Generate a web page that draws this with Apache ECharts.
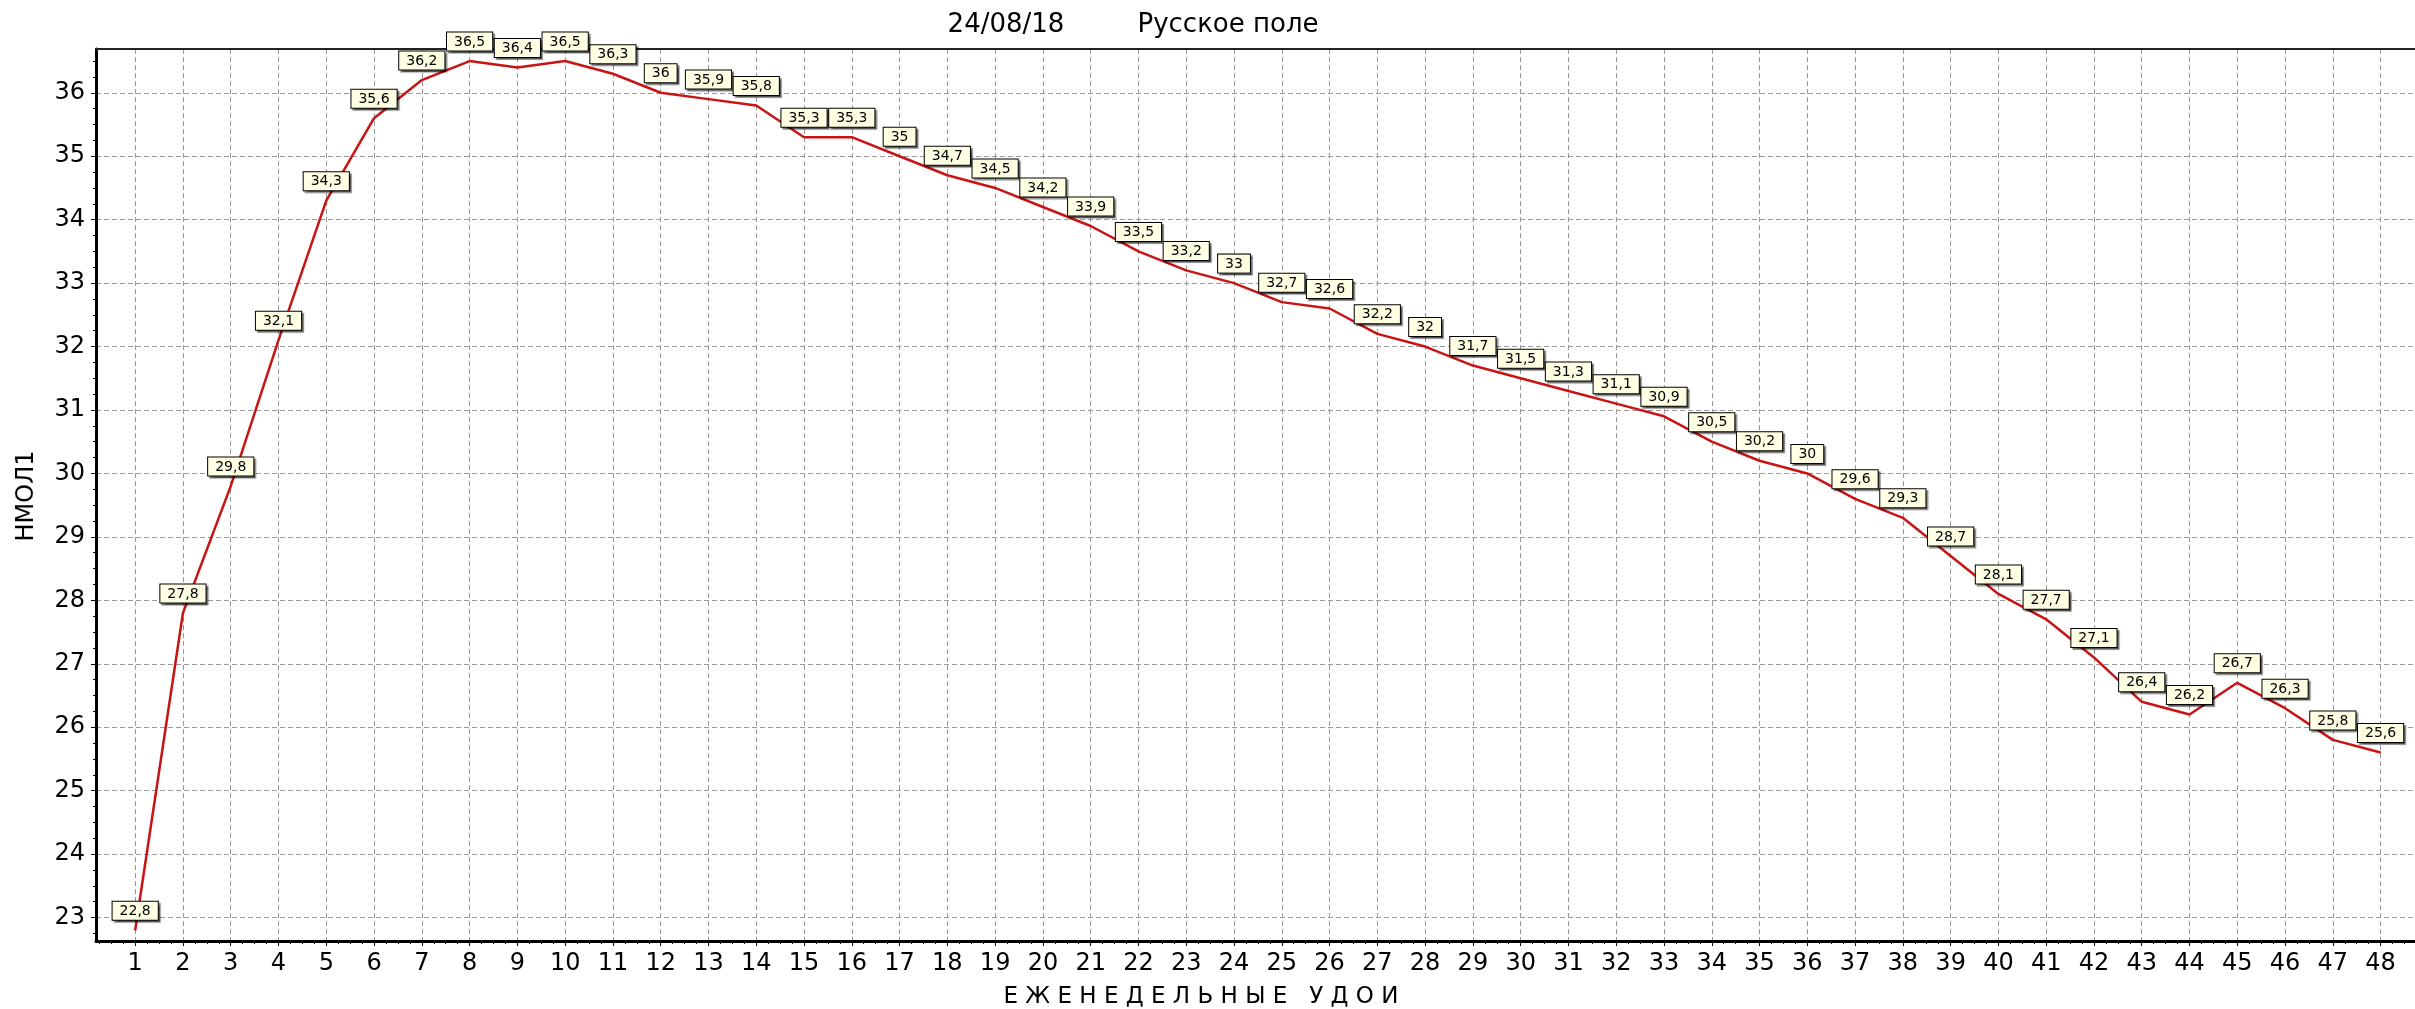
<!DOCTYPE html>
<html>
<head>
<meta charset="utf-8">
<title>Русское поле</title>
<script src="https://cdn.jsdelivr.net/npm/echarts@6/dist/echarts.min.js"></script>
<style>
  html, body { margin: 0; padding: 0; background: #fff; }
  #chart { width: 2415px; height: 1009px; }
</style>
</head>
<body>
<div id="chart"></div>
<script>
// недели лактации и надой за неделю
const weeks = [1, 2, 3, 4, 5, 6, 7, 8, 9, 10, 11, 12, 13, 14, 15, 16, 17, 18, 19, 20, 21, 22, 23, 24,
  25, 26, 27, 28, 29, 30, 31, 32, 33, 34, 35, 36, 37, 38, 39, 40, 41, 42, 43, 44, 45, 46, 47, 48];
const yields = [22.8, 27.8, 29.8, 32.1, 34.3, 35.6, 36.2, 36.5, 36.4, 36.5, 36.3, 36, 35.9, 35.8, 35.3, 35.3,
  35, 34.7, 34.5, 34.2, 33.9, 33.5, 33.2, 33, 32.7, 32.6, 32.2, 32, 31.7, 31.5, 31.3, 31.1,
  30.9, 30.5, 30.2, 30, 29.6, 29.3, 28.7, 28.1, 27.7, 27.1, 26.4, 26.2, 26.7, 26.3, 25.8, 25.6];
const yTicks = [23, 24, 25, 26, 27, 28, 29, 30, 31, 32, 33, 34, 35, 36];
const titleDate = '24/08/18';
const titleFarm = 'Русское поле';
const xName = 'Е Ж Е Н Е Д Е Л Ь Н Ы Е   У Д О И';
const yName = 'НМОЛ1';

const X_MIN = 0.18, X_MAX = 48.72;
const Y_MIN = 22.63, Y_MAX = 36.69;
const FONT = 'DejaVu Sans';

// мелкие риски через 0.25
const quarters = (from, to) => {
  const out = [];
  for (let v = Math.ceil(from * 4) / 4; v <= to; v += 0.25) out.push(+v.toFixed(2));
  return out;
};

const gridLine = { show: true, lineStyle: { color: '#9a9a9a', width: 1, type: [5, 3] } };

const chart = echarts.init(document.getElementById('chart'));
chart.setOption({
  backgroundColor: '#fff',
  animation: false,
  grid: { left: 96, right: 0, top: 49, bottom: 68, outerBoundsMode: 'none' },
  xAxis: [
    {
      type: 'value', position: 'bottom', min: X_MIN, max: X_MAX,
      axisLine: { lineStyle: { color: '#000', width: 3 } },
      axisTick: { customValues: weeks, length: 5, lineStyle: { color: '#000', width: 1 } },
      axisLabel: { customValues: weeks, color: '#000', fontSize: 24, fontFamily: FONT, margin: 11 },
      splitLine: gridLine
    },
    {
      type: 'value', position: 'bottom', min: X_MIN, max: X_MAX,
      axisLine: { show: false },
      axisTick: { customValues: quarters(X_MIN, X_MAX), length: 3, lineStyle: { color: '#000', width: 1 } },
      axisLabel: { show: false },
      splitLine: { show: false }
    },
    {
      type: 'value', position: 'top', min: X_MIN, max: X_MAX,
      axisLine: { lineStyle: { color: '#222', width: 2 } },
      axisTick: { show: false },
      axisLabel: { show: false },
      splitLine: { show: false }
    }
  ],
  yAxis: [
    {
      type: 'value', position: 'left', min: Y_MIN, max: Y_MAX,
      axisLine: { show: true, lineStyle: { color: '#000', width: 3 } },
      axisTick: { show: true, customValues: yTicks, length: 5, lineStyle: { color: '#000', width: 1 } },
      axisLabel: { customValues: yTicks, color: '#000', fontSize: 24, fontFamily: FONT, margin: 11 },
      splitLine: gridLine
    },
    {
      type: 'value', position: 'left', min: Y_MIN, max: Y_MAX,
      axisLine: { show: false },
      axisTick: { show: true, customValues: quarters(Y_MIN, Y_MAX), length: 3, lineStyle: { color: '#000', width: 1 } },
      axisLabel: { show: false },
      splitLine: { show: false }
    }
  ],
  graphic: [
    { type: 'text', x: 1006, y: 25, style: { text: titleDate, font: '26px "' + FONT + '"', fill: '#000', align: 'center', verticalAlign: 'middle' } },
    { type: 'text', x: 1228, y: 25, style: { text: titleFarm, font: '26px "' + FONT + '"', fill: '#000', align: 'center', verticalAlign: 'middle' } },
    { type: 'text', x: 1201, y: 997, style: { text: xName, font: '23px "' + FONT + '"', fill: '#000', align: 'center', verticalAlign: 'middle' } },
    { type: 'text', x: 27, y: 496, rotation: Math.PI / 2, style: { text: yName, font: '24px "' + FONT + '"', fill: '#000', align: 'center', verticalAlign: 'middle' } }
  ],
  series: [
    {
      type: 'line',
      xAxisIndex: 0,
      yAxisIndex: 0,
      data: weeks.map((w, i) => [w, yields[i]]),
      symbol: 'circle',
      symbolSize: 1,
      itemStyle: { color: '#c81414' },
      lineStyle: { color: '#c81414', width: 2.5 },
      clip: false,
      label: {
        show: true,
        position: 'top',
        distance: 10,
        formatter: (p) => String(p.value[1]).replace('.', ','),
        color: '#000',
        fontSize: 14,
        fontFamily: FONT,
        lineHeight: 15,
        backgroundColor: '#ffffe4',
        borderColor: '#000',
        borderWidth: 1,
        padding: [2, 7, 1, 7],
        shadowColor: 'rgba(0,0,0,0.45)',
        shadowBlur: 1,
        shadowOffsetX: 2,
        shadowOffsetY: 2
      }
    }
  ]
});
</script>
</body>
</html>
